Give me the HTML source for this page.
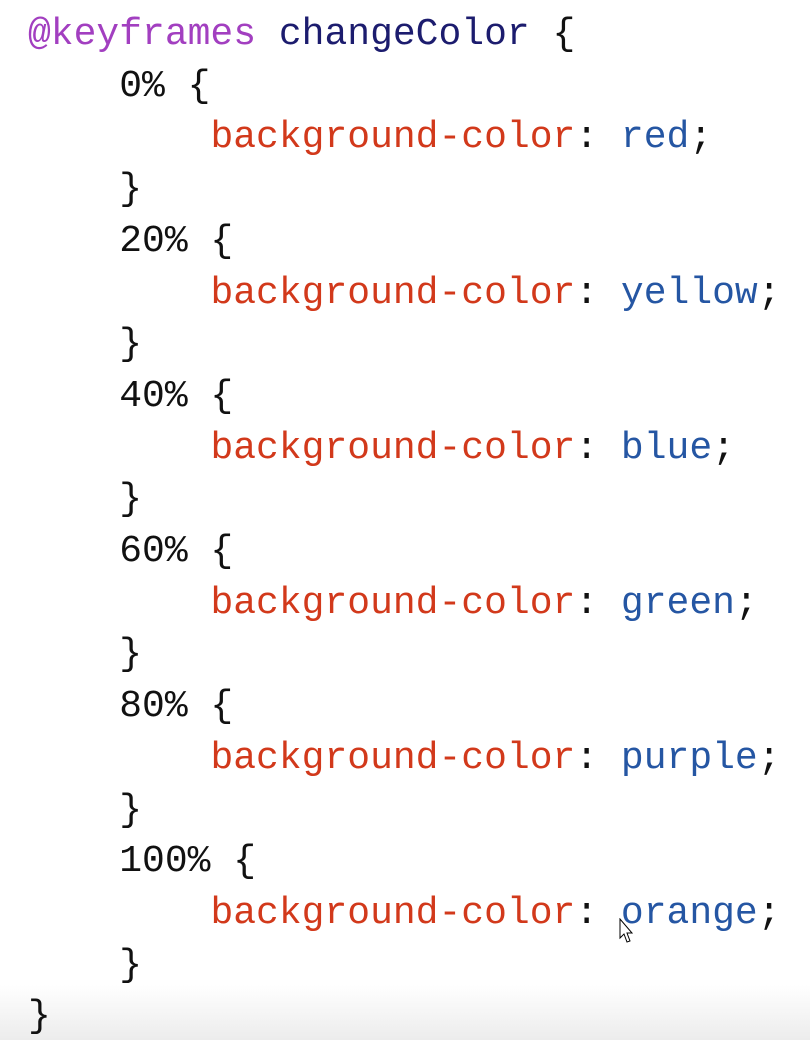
<!DOCTYPE html>
<html><head><style>
html,body{margin:0;padding:0;}
body{width:810px;height:1040px;background:#fff;position:relative;overflow:hidden;}
.bot{position:absolute;left:0;top:985px;width:810px;height:55px;background:linear-gradient(#fff,#ececec);}
pre{position:absolute;left:28px;top:9px;margin:0;font-family:"Liberation Mono",monospace;font-size:38px;line-height:51.7px;color:#111;}
.k{color:#a23fc0}.n{color:#1c1c6e}.p{color:#d2391b}.v{color:#2556a3}
</style></head><body>
<div class="bot"></div>
<pre><span class="k">@keyframes</span> <span class="n">changeColor</span> {
    0% {
        <span class="p">background-color</span>: <span class="v">red</span>;
    }
    20% {
        <span class="p">background-color</span>: <span class="v">yellow</span>;
    }
    40% {
        <span class="p">background-color</span>: <span class="v">blue</span>;
    }
    60% {
        <span class="p">background-color</span>: <span class="v">green</span>;
    }
    80% {
        <span class="p">background-color</span>: <span class="v">purple</span>;
    }
    100% {
        <span class="p">background-color</span>: <span class="v">orange</span>;
    }
}</pre>
<svg style="position:absolute;left:619px;top:918px" width="16" height="26"><path d="M1 1 L1 20 L5 16 L8 24 L11 23 L8 15 L13 15 Z" fill="#fff" stroke="#000" stroke-width="1"/></svg>
</body></html>
